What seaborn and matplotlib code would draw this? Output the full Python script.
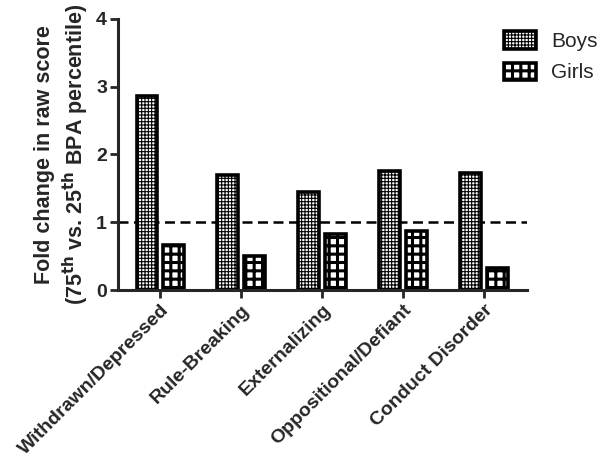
import matplotlib
matplotlib.use('Agg')
import matplotlib.pyplot as plt
import seaborn as sns
import pandas as pd

# Dữ liệu
categories = ['Withdrawn/Depressed', 'Rule-Breaking', 'Externalizing',
              'Oppositional/Defiant', 'Conduct Disorder']
boys = [2.86, 1.70, 1.44, 1.75, 1.73]
girls = [0.66, 0.50, 0.83, 0.87, 0.32]
groups = ['Boys', 'Girls']
yticks = [0, 1, 2, 3, 4]

sns.set_style('ticks')
plt.rcParams['font.family'] = ['Liberation Sans', 'DejaVu Sans']

df = pd.DataFrame({
    'category': categories * 2,
    'value': boys + girls,
    'group': ['Boys'] * len(categories) + ['Girls'] * len(categories),
})

fig = plt.figure(figsize=(6, 4.71), dpi=100)
ax = fig.add_axes([0.197, 0.384, 0.681, 0.576])

sns.barplot(data=df, x='category', y='value', hue='group', hue_order=groups,
            palette=['white', 'white'], edgecolor='black', linewidth=2.6,
            width=0.66, gap=0.22, saturation=1, ax=ax)

hatches = {'Boys': '+++++', 'Girls': '++'}
hlw = {'Boys': 0.8, 'Girls': 2.2}
for cont, g in zip(ax.containers, groups):
    for p in cont:
        p.set_hatch(hatches[g])
        p.set_hatch_linewidth(hlw[g])

ax.axhline(1, xmin=0, xmax=1, color='black', lw=1.8, ls=(0, (4, 2.2)), zorder=0.5)

ax.set_xlim(-0.52, 4.53)
ax.set_ylim(0, 4)
ax.set_yticks(yticks)
ax.set_yticklabels([str(t) for t in yticks], fontsize=14, fontweight='bold')
ax.set_xticks(range(len(categories)))
ax.set_xticklabels(categories, rotation=45, ha='right', rotation_mode='anchor',
                   fontsize=14, fontweight='bold')
ax.tick_params(axis='both', width=2, length=6, direction='out', pad=2)
for s in ['left', 'bottom']:
    ax.spines[s].set_linewidth(2.2)
sns.despine(ax=ax)

ax.set_xlabel('')
ax.set_ylabel('Fold change in raw score\n(75$^{\\mathbf{th}}$ vs. 25$^{\\mathbf{th}}$ BPA percentile)',
              fontsize=15.5, fontweight='bold', linespacing=1.25, labelpad=4)

handles, labels = ax.get_legend_handles_labels()
ax.legend(handles, labels, loc='upper left', bbox_to_anchor=(0.925, 0.985),
          frameon=False, fontsize=15, handlelength=1.5, handleheight=0.9,
          labelspacing=0.55, handletextpad=0.75, borderaxespad=0)
for h, g in zip(ax.get_legend().legend_handles, groups):
    h.set_hatch(hatches[g])
    h.set_hatch_linewidth(hlw[g])
    h.set_edgecolor('black')
    h.set_linewidth(2.6)

plt.savefig('out.png', dpi=100)
